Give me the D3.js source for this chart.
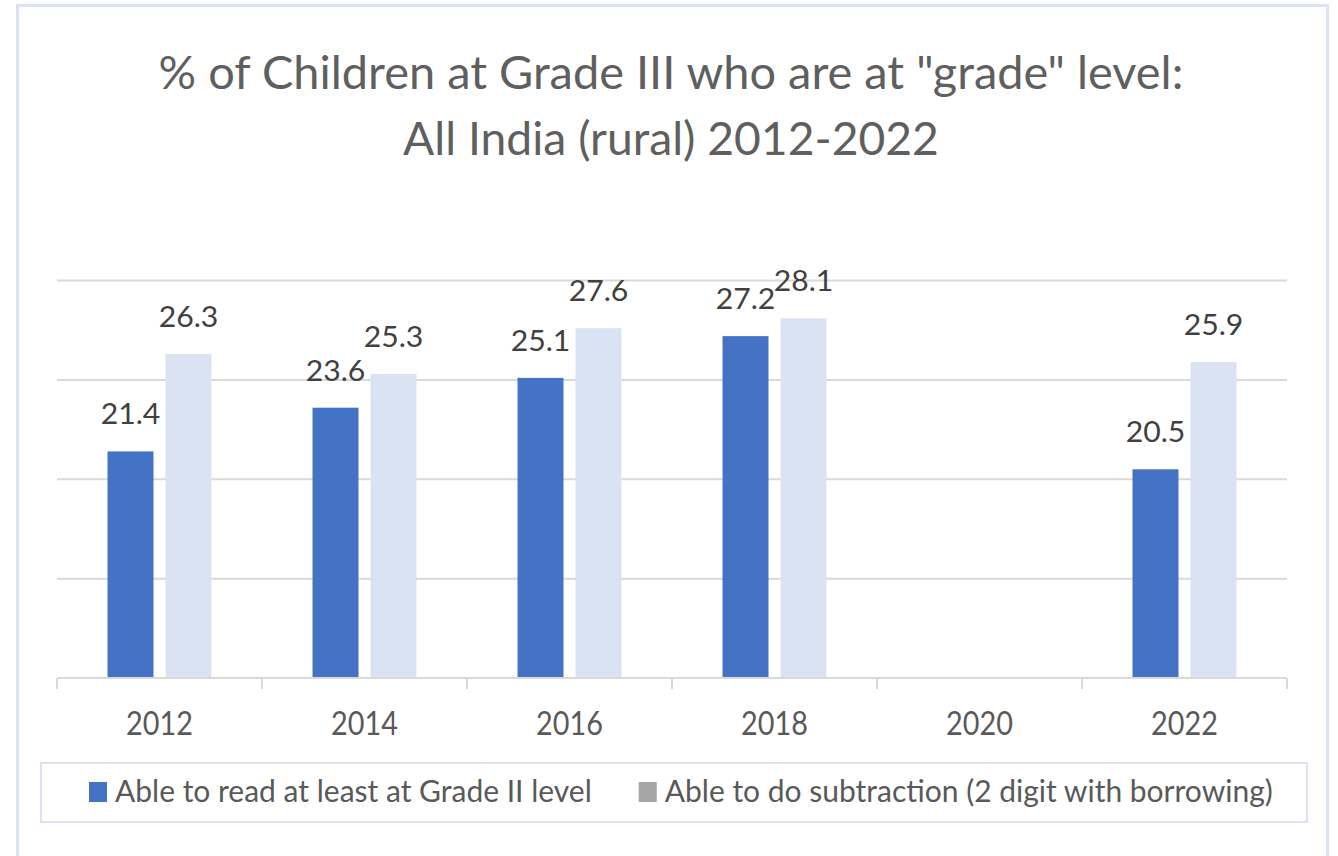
<!DOCTYPE html>
<html>
<head>
<meta charset="utf-8">
<script src="https://cdn.jsdelivr.net/npm/d3@7"></script>
<style>
  html, body { margin: 0; padding: 0; background: #ffffff; }
  svg { display: block; }
  text { font-family: Lato, "Open Sans", sans-serif; }
</style>
</head>
<body>
<svg id="chart" width="1338" height="856"></svg>
<script>
// Survey years on the category axis
const years = ["2012", "2014", "2016", "2018", "2020", "2022"];
// % of Grade III children able to read at least at Grade II level (no survey in 2020)
const readingValues = [21.4, 23.6, 25.1, 27.2, null, 20.5];
// % of Grade III children able to do 2-digit subtraction with borrowing
const subtractionValues = [26.3, 25.3, 27.6, 28.1, null, 25.9];
const seriesNames = [
  "Able to read at least at Grade II level",
  "Able to do subtraction (2 digit with borrowing)"
];
const gridValues = [15, 20, 25, 30];
const titleLines = [
  "% of Children at Grade III who are at \"grade\" level:",
  "All India (rural) 2012-2022"
];

const barColors = ["#4472c4", "#dae3f3"];
const legendColors = ["#4472c4", "#a5a5a5"];

const svg = d3.select("#chart");

// Stretch or squeeze text horizontally by a factor of its natural width
function fitWidth(sel, factor) {
  sel.each(function (d, i) {
    const f = typeof factor === "function" ? factor(d, i) : factor;
    const w = this.getComputedTextLength();
    d3.select(this).attr("textLength", w * f).attr("lengthAdjust", "spacingAndGlyphs");
  });
}

// Chart area frame
svg.append("rect")
  .attr("x", 17.5).attr("y", 5.5)
  .attr("width", 1310).attr("height", 880)
  .attr("fill", "#ffffff")
  .attr("stroke", "#dae3f3").attr("stroke-width", 3);

// Title
svg.append("g").selectAll("text")
  .data(titleLines)
  .join("text")
  .attr("x", 671)
  .attr("y", (d, i) => 89 + i * 66)
  .attr("text-anchor", "middle")
  .attr("font-size", 46)
  .attr("fill", "#5f5f5f")
  .text(d => d)
  .call(fitWidth, (d, i) => (i === 0 ? 1.02 : 1.005));

// Scales
const x = d3.scaleBand().domain(years).range([57, 1287]).padding(0);
const xInner = d3.scaleBand().domain([0, 1]).range([0, x.bandwidth()])
  .paddingInner(0.207).paddingOuter(0.871);
const y = d3.scaleLinear().domain([10, 30]).range([678, 280.5]);

// Horizontal gridlines
svg.append("g").selectAll("line")
  .data(gridValues)
  .join("line")
  .attr("x1", 57).attr("x2", 1287)
  .attr("y1", d => y(d)).attr("y2", d => y(d))
  .attr("stroke", "#d9d9d9").attr("stroke-width", 2);

// Bars
const rows = years.map((yr, i) => ({ year: yr, values: [readingValues[i], subtractionValues[i]] }));
const groups = svg.append("g").selectAll("g")
  .data(rows)
  .join("g")
  .attr("transform", d => `translate(${x(d.year)},0)`);

const cells = groups.selectAll("g")
  .data(d => d.values.map((v, s) => ({ v, s })).filter(c => c.v != null))
  .join("g");

cells.append("rect")
  .attr("x", d => xInner(d.s))
  .attr("width", xInner.bandwidth())
  .attr("y", d => y(d.v))
  .attr("height", d => y(10) - y(d.v))
  .attr("fill", d => barColors[d.s]);

// Value labels above bars
cells.append("text")
  .attr("x", d => xInner(d.s) + xInner.bandwidth() / 2)
  .attr("y", d => y(d.v) - 27)
  .attr("text-anchor", "middle")
  .attr("font-size", 29)
  .attr("fill", "#404040")
  .text(d => d.v.toFixed(1))
  .call(fitWidth, 1.04);

// Category axis with tick marks on band boundaries
const axisG = svg.append("g");
axisG.append("line")
  .attr("x1", 57).attr("x2", 1287)
  .attr("y1", y(10)).attr("y2", y(10))
  .attr("stroke", "#d9d9d9").attr("stroke-width", 2);
const boundaries = years.map(d => x(d)).concat([x.range()[1]]);
axisG.selectAll("line.tick")
  .data(boundaries)
  .join("line")
  .attr("class", "tick")
  .attr("x1", d => d).attr("x2", d => d)
  .attr("y1", y(10)).attr("y2", y(10) + 11)
  .attr("stroke", "#d9d9d9").attr("stroke-width", 2);
axisG.selectAll("text")
  .data(years)
  .join("text")
  .attr("x", d => x(d) + x.bandwidth() / 2)
  .attr("y", 735)
  .attr("text-anchor", "middle")
  .attr("font-size", 32)
  .attr("fill", "#595959")
  .text(d => d)
  .call(fitWidth, 0.9);

// Legend
const legend = svg.append("g");
legend.append("rect")
  .attr("x", 41).attr("y", 763)
  .attr("width", 1266).attr("height", 59)
  .attr("fill", "#ffffff")
  .attr("stroke", "#dae3f3").attr("stroke-width", 2);

let lx = 89;
seriesNames.forEach((name, i) => {
  legend.append("rect")
    .attr("x", lx).attr("y", 782)
    .attr("width", 18).attr("height", 20)
    .attr("fill", legendColors[i]);
  const t = legend.append("text")
    .attr("x", lx + 26).attr("y", 802)
    .attr("font-size", 30)
    .attr("fill", "#595959")
    .text(name)
    .call(fitWidth, 1.0);
  lx += 26 + (+t.attr("textLength")) + 47;
});
</script>
</body>
</html>
